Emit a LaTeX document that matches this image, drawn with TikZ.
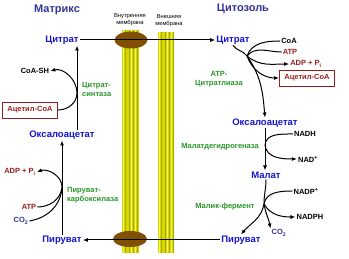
\documentclass[tikz,border=0pt]{standalone}
\usepackage{fontspec}
\setmainfont{Liberation Sans}
\usepackage{tikz}
\usetikzlibrary{arrows.meta, positioning, shapes, calc}

\definecolor{metblue}{RGB}{20,20,210}
\definecolor{titleblue}{RGB}{51,51,153}
\definecolor{enzgreen}{RGB}{40,150,40}
\definecolor{cofred}{RGB}{153,30,30}
\definecolor{memyellow}{RGB}{215,215,0}
\definecolor{memdark}{RGB}{170,170,0}
\definecolor{memlight}{RGB}{245,245,100}
\definecolor{carrier}{RGB}{130,80,5}

\begin{document}
\begin{tikzpicture}[x=1pt, y=1pt,
    metab/.style={text=metblue, font=\fontsize{9.5}{11}\selectfont\bfseries, inner sep=1pt},
    ttl/.style={text=titleblue, font=\fontsize{11}{13}\selectfont\bfseries},
    enzyme/.style={text=enzgreen, font=\fontsize{7.5}{9}\selectfont\bfseries, align=left, inner sep=0pt},
    cofac/.style={font=\fontsize{7.5}{9}\selectfont\bfseries, inner sep=1pt},
    membr/.style={font=\fontsize{5.8}{6.8}\selectfont, align=center, inner sep=0pt},
    accbox/.style={draw=cofred, line width=0.9pt, text=cofred, font=\fontsize{7.5}{9}\selectfont\bfseries, minimum width=55pt, minimum height=16pt, inner sep=1pt},
    arr/.style={-{Latex[length=5pt,width=4pt]}, line width=1pt},
    link/.style={line width=1pt}]
  \useasboundingbox (0,0) rectangle (349,259);

  % membranes
  \fill[memyellow] (122,6) rectangle (139,229);
  \fill[memyellow] (158,6) rectangle (174,227);
  \foreach \x in {125,129,...,137} \draw[memdark, line width=0.6pt] (\x,6) -- (\x,229);
  \foreach \x in {123.5,131,135} \draw[memlight, line width=0.8pt] (\x,6) -- (\x,229);
  \foreach \x in {161,165,...,173} \draw[memdark, line width=0.6pt] (\x,6) -- (\x,227);
  \foreach \x in {159.5,167,171} \draw[memlight, line width=0.8pt] (\x,6) -- (\x,227);
  \node[membr] (innerlbl) at (130,239) {Внутренняя\\мембрана};
  \node[membr] (outerlbl) at (169,238) {Внешняя\\мембрана};
  \fill[carrier] (131,219) ellipse (16.5 and 8.5);
  \fill[carrier] (130,20) ellipse (17 and 8);

  \node[ttl] (mtx) at (57,249) {Матрикс};
  \node[ttl] (cyto) at (243,250) {Цитозоль};

  % matrix side
  \node[metab] (citL) at (62,219) {Цитрат};
  \node[metab] (oaaL) at (62,124) {Оксалоацетат};
  \node[metab] (pyrL) at (62,19) {Пируват};
  \node[cofac] (coash) at (35,188) {CoA-SH};
  \node[accbox] (acoaL) at (30,149) {Ацетил-CoA};
  \node[enzyme, anchor=west] (csyn) at (82,170) {Цитрат-\\синтаза};
  \coordinate (csynT) at (77,166);
  \draw[arr] ([xshift=15pt]oaaL.north) -- ([xshift=15pt]citL.south);
  \draw[arr] (acoaL.east) to[out=0, in=-90] (csynT) to[out=90, in=15] (coash.east);

  \node[cofac, text=cofred] (adpL) at (20,87) {ADP + P\textsubscript{i}};
  \node[cofac, text=cofred] (atpL) at (29,52) {ATP};
  \node[cofac, text=titleblue] (co2L) at (21,38) {CO\textsubscript{2}};
  \node[enzyme, anchor=west] (pcarb) at (67,64) {Пируват-\\карбоксилаза};
  \coordinate (pcarbT) at (62,71);
  \draw[arr] (pyrL) -- (oaaL);
  \draw[link] (atpL.east) to[out=0, in=-100] (pcarbT);
  \draw[link] (co2L.east) to[out=10, in=-95] (pcarbT);
  \draw[arr] (pcarbT) to[out=85, in=20] (adpL.east);

  % cytosol side
  \node[metab] (citR) at (233,219) {Цитрат};
  \node[metab] (pyrR) at (241,19) {Пируват};
  \draw[arr] (citL.east) -- (citR.west);
  \draw[arr] (pyrR.west) -- (pyrL.east);

  \node[cofac] (coaR) at (289,218) {CoA};
  \node[cofac, text=cofred] (atpR) at (290,207) {ATP};
  \node[cofac, text=cofred] (adpR) at (306,195) {ADP + P\textsubscript{i}};
  \node[accbox] (acoaR) at (307,181) {Ацетил-CoA};
  \node[enzyme, align=center] (lyase) at (219,180) {ATP-\\Цитратлиаза};
  \node[metab] (oaaR) at (265,136) {Оксалоацетат};
  \coordinate (lyaseT) at (247,203);
  \draw[arr] (citR.south) to[out=-55, in=125] (lyaseT) to[out=-55, in=95] (oaaR.north);
  \draw[link] (coaR.west) to[out=180, in=70] (lyaseT);
  \draw[link] (atpR.west) to[out=180, in=50] (lyaseT);
  \draw[arr] (lyaseT) to[out=-40, in=180] (adpR.west);
  \draw[arr] (lyaseT) to[out=-70, in=180] (acoaR.west);

  \node[metab] (malR) at (266,84) {Малат};
  \node[cofac] (nadhR) at (305,125) {NADH};
  \node[cofac] (nadR) at (308,100) {NAD\textsuperscript{+}};
  \node[enzyme] (mdh) at (220,112) {Малатдегидрогеназа};
  \coordinate (mdhT) at (265,114);
  \draw[arr] (oaaR.south) -- (oaaR.south |- malR.north);
  \draw[link] (nadhR.west) to[out=180, in=85] (mdhT);
  \draw[arr] (mdhT) to[out=-85, in=180] (nadR.west);

  \node[cofac] (nadpR) at (306,68) {NADP\textsuperscript{+}};
  \node[cofac] (nadphR) at (310,42) {NADPH};
  \node[cofac, text=titleblue] (co2R) at (279,26) {CO\textsubscript{2}};
  \node[enzyme] (malic) at (225,52) {Малик-фермент};
  \coordinate (malicT) at (264,55);
  \draw[arr] (malR.south) to[out=-90, in=90] (malicT) to[out=-100, in=50] (pyrR.north);
  \draw[arr] (malicT) to[out=-80, in=100] (co2R.north west);
  \draw[link] (nadpR.west) to[out=180, in=80] (malicT);
  \draw[arr] (malicT) to[out=-60, in=180] (nadphR.west);
\end{tikzpicture}
\end{document}
